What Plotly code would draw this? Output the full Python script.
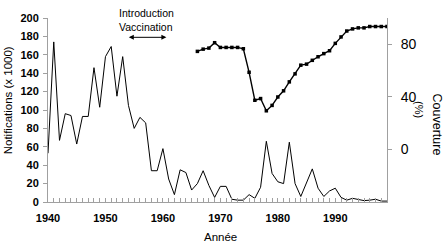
import plotly.graph_objects as go

years = list(range(1940, 2000))
notifications = [53, 174, 67, 96, 94, 63, 93, 93, 146, 103, 158, 169, 115, 158, 105, 80, 92, 86,
                 34, 34, 58, 25, 8, 35, 32, 13, 20, 34, 18, 5, 17, 17, 3, 2, 2, 8, 4, 16,
                 66, 31, 22, 20, 65, 20, 6, 21, 36, 15, 6, 12, 15, 5, 2, 4, 3, 1.5, 2, 3, 1, 1]
cov_years = list(range(1966, 2000))
coverage = [74.6, 76.3, 77.1, 81.2, 77.6, 77.6, 77.6, 77.6, 76.6, 58.7, 37.4, 38.7, 29.4, 33.5,
            39.9, 44.6, 51.4, 57.5, 64.1, 64.9, 67.8, 70.5, 72.9, 75.1, 80.7, 85.6, 90.1, 91.7,
            92.5, 92.5, 93.5, 93.5, 93.5, 93.5]
left_ticks = list(range(0, 201, 20))
right_ticks = [0, 40, 80]
year_ticks = [1940, 1950, 1960, 1970, 1980, 1990]

FONT = "Arial, Liberation Sans, sans-serif"
GREY = "#a0a0a0"
L, R, T, B, W, H = 48, 57, 12, 44, 444, 246
PW, PH = W - L - R, H - T - B


def px(x):
    return (x - L) / PW


def py(y):
    return (H - B - y) / PH


fig = go.Figure()
fig.add_trace(go.Scatter(x=years, y=notifications, mode="lines",
                         line=dict(color="black", width=1), showlegend=False))
fig.add_trace(go.Scatter(x=cov_years, y=coverage, mode="lines+markers", yaxis="y2",
                         line=dict(color="black", width=1.4),
                         marker=dict(symbol="square", size=3.5, color="black"),
                         showlegend=False))

fig.update_layout(
    width=W, height=H, margin=dict(l=L, r=R, t=T, b=B),
    paper_bgcolor="white", plot_bgcolor="white",
    font=dict(family=FONT, color="black"),
    xaxis=dict(range=[1940, 1999], tickvals=year_ticks, ticks="inside", ticklen=4,
               tickcolor=GREY, showline=True, linecolor=GREY, linewidth=1, showgrid=False,
               zeroline=False, tickfont=dict(size=11, family=FONT, weight="bold"),
               ticklabelstandoff=6,
               minor=dict(dtick=1, tick0=1940, ticks="inside", ticklen=4, tickcolor=GREY)),
    yaxis=dict(range=[0, 200], tickvals=left_ticks, ticks="outside", ticklen=4,
               tickcolor=GREY, showline=True, linecolor=GREY, linewidth=1, showgrid=False,
               zeroline=False, tickfont=dict(size=11, family=FONT, weight="bold"),
               ticklabelstandoff=2),
    yaxis2=dict(range=[-40, 100], tickvals=right_ticks, overlaying="y", side="right",
                ticks="outside", ticklen=4, tickcolor=GREY, showline=True, linecolor=GREY,
                linewidth=1, showgrid=False, zeroline=False,
                tickfont=dict(size=14, family=FONT), ticklabelstandoff=6),
)

ann = dict(showarrow=False, xref="paper", yref="paper", xanchor="center", yanchor="middle")
fig.add_annotation(text="Notifications (x 1000)", x=px(8), y=py(97), textangle=-90,
                   font=dict(size=11.5), **ann)
fig.add_annotation(text="Année", x=px(220), y=py(238), font=dict(size=11.5), **ann)
fig.add_annotation(text="Couverture", x=px(437), y=py(122), textangle=90,
                   font=dict(size=12.5), **ann)
fig.add_annotation(text="(%)", x=px(419), y=py(106), textangle=90,
                   font=dict(size=11), **ann)
fig.add_annotation(text="Introduction", x=px(146), y=py(7), font=dict(size=10.5), **ann)
fig.add_annotation(text="Vaccination", x=px(146), y=py(21), font=dict(size=10.5), **ann)
fig.add_annotation(text="", x=1960.6, y=179, ax=1953.8, ay=179, xref="x", yref="y",
                   axref="x", ayref="y", showarrow=True, arrowhead=2, arrowside="end+start",
                   arrowwidth=1, arrowsize=1, arrowcolor="black", standoff=0, startstandoff=0)

fig.write_html("out.html", config={"displayModeBar": False},
               post_script="document.body.style.margin='0';")
